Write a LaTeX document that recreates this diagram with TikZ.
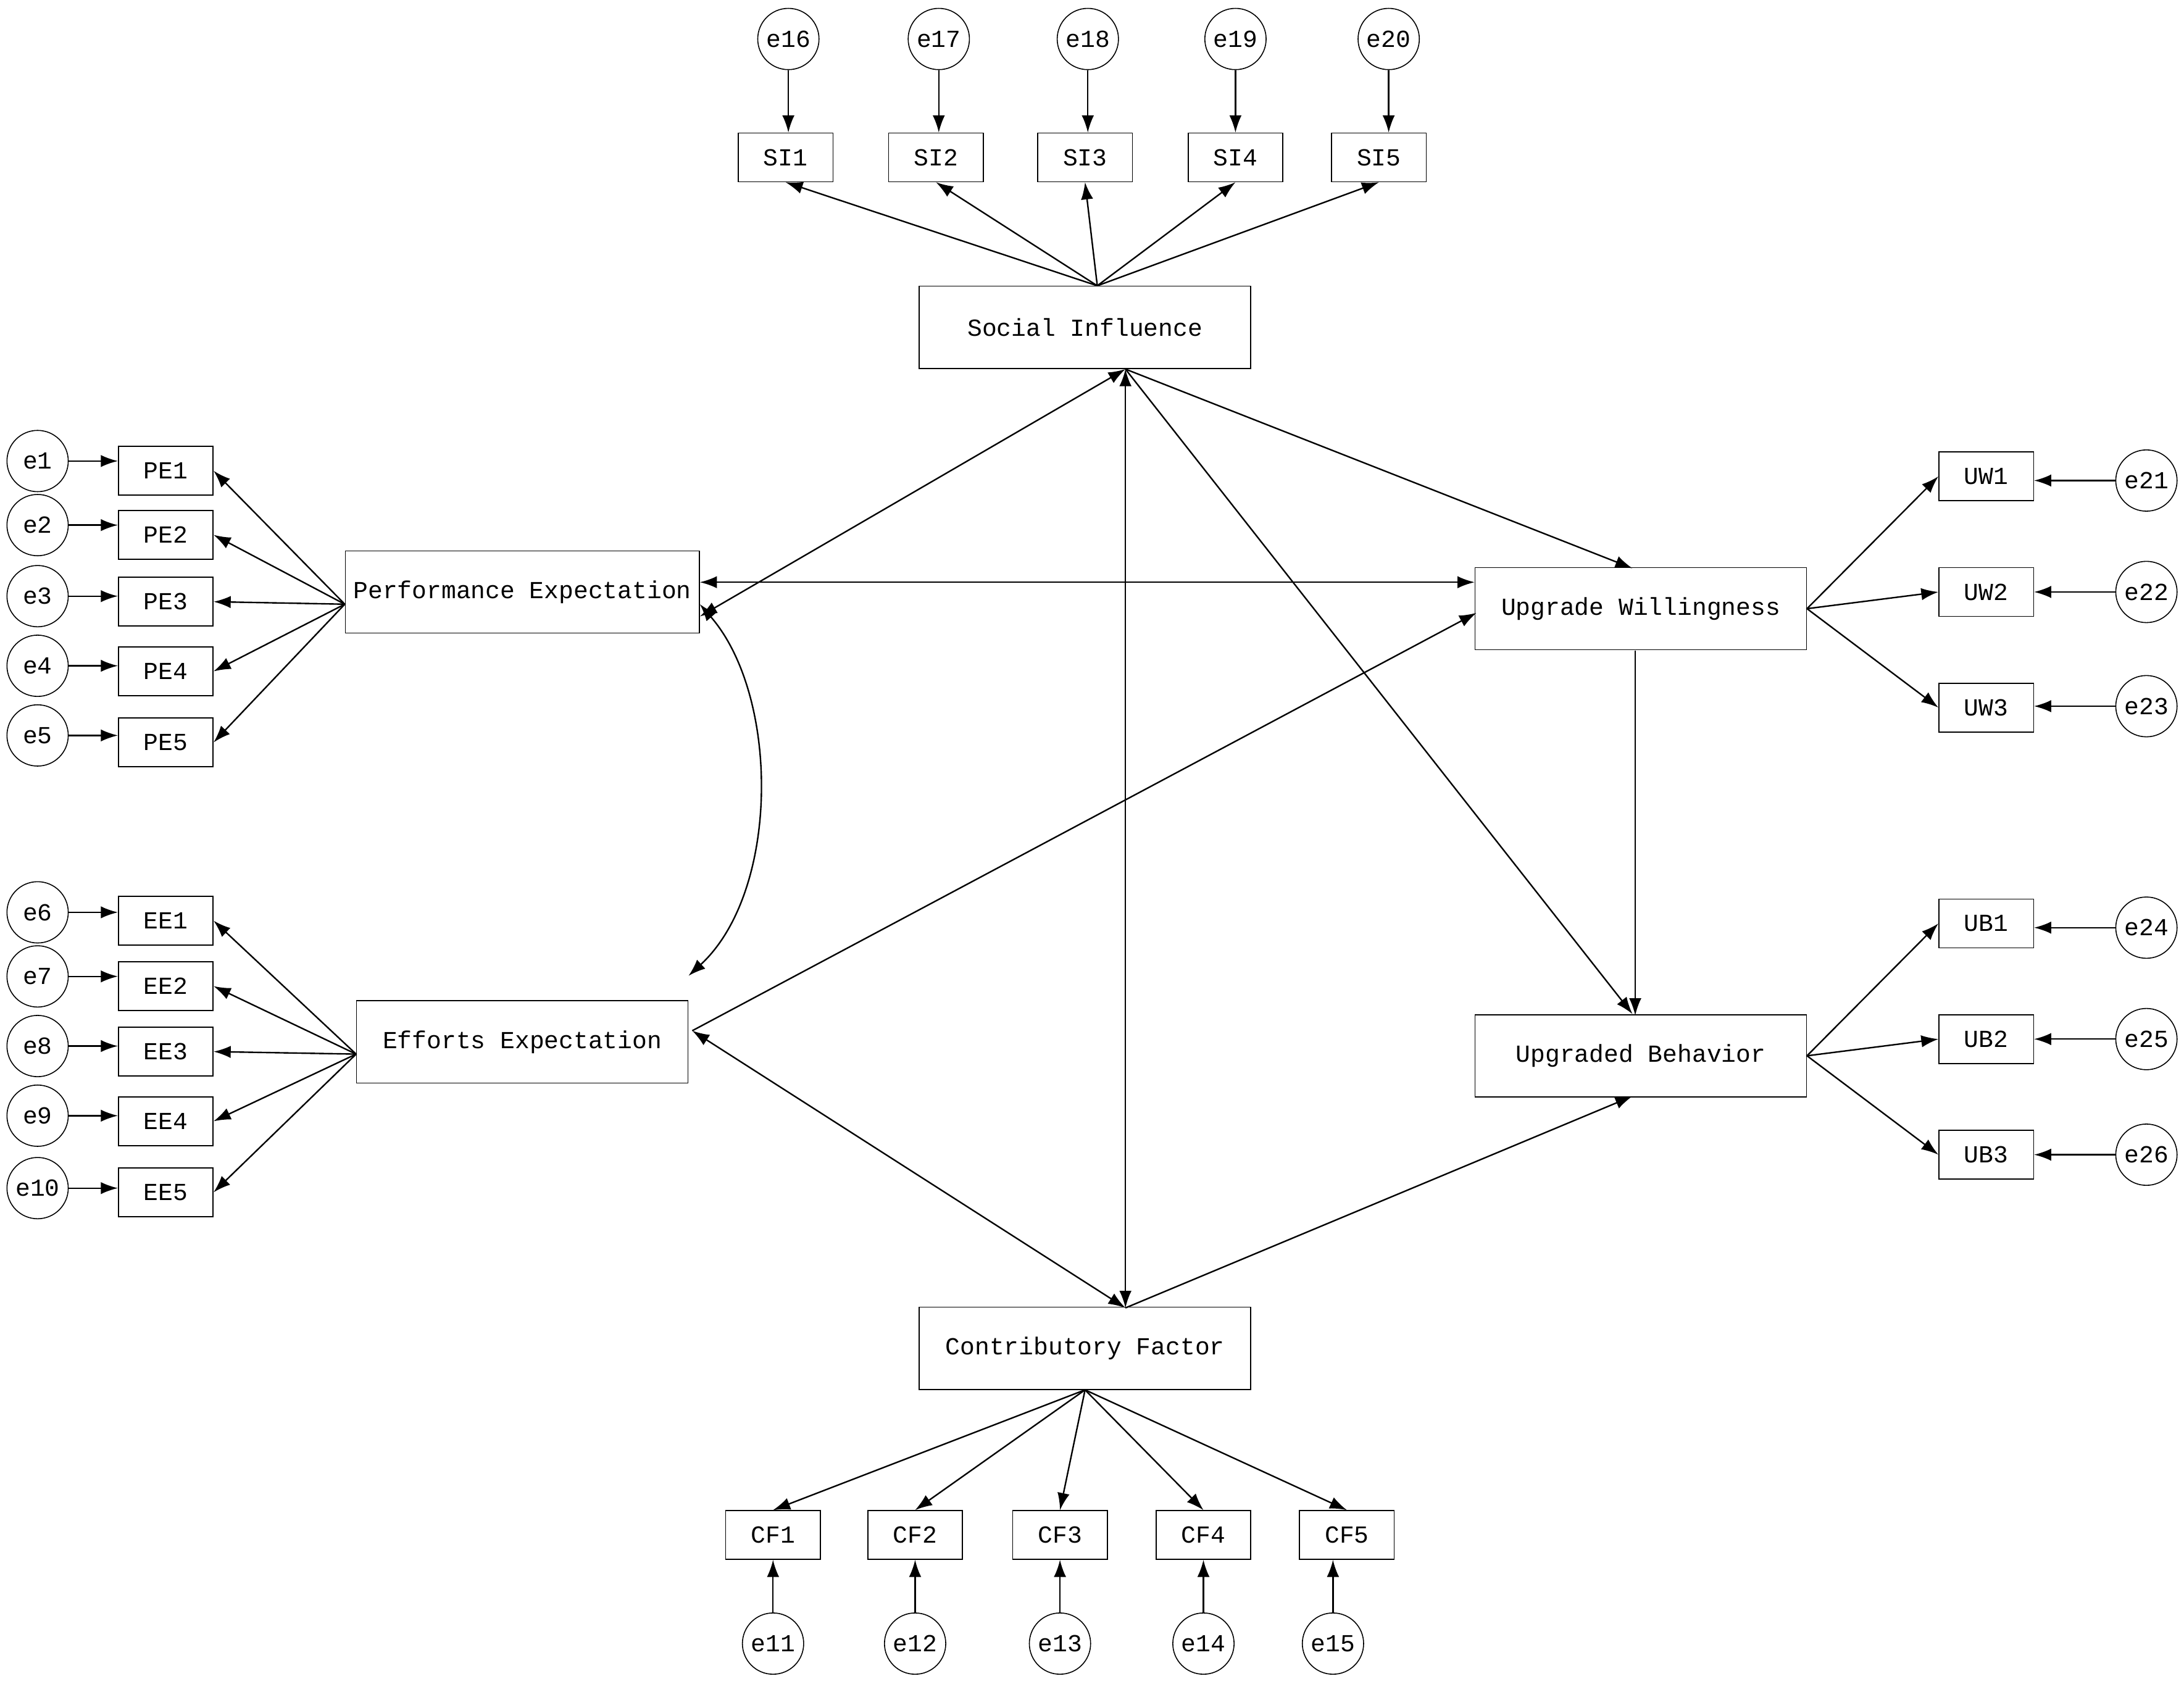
\documentclass[tikz,border=0pt]{standalone}
\usepackage{fontspec}
\setmainfont{Liberation Mono}
\usetikzlibrary{arrows.meta}
\begin{document}
\begin{tikzpicture}[x=0.02cm,y=-0.02cm,
  lat/.style={draw,minimum width=4.76cm,minimum height=1.18cm,font=\fontsize{10}{12}\selectfont},
  obs/.style={draw,minimum width=1.36cm,minimum height=0.7cm,inner sep=0pt,font=\fontsize{10}{12}\selectfont},
  err/.style={draw,circle,minimum size=0.88cm,inner sep=0pt,font=\fontsize{10}{12}\selectfont},
  ar/.style={-{Latex[length=7pt,width=5pt]},line width=0.6pt},
  dar/.style={{Latex[length=7pt,width=5pt]}-{Latex[length=7pt,width=5pt]},line width=0.6pt}]
\useasboundingbox (0,0) rectangle (1568,1209);
\node[lat] (SI) at (779,235) {Social Influence};
\node[lat] (PE) at (375,425) {Performance Expectation};
\node[lat] (EE) at (375,748) {Efforts Expectation};
\node[lat] (UW) at (1178,437) {Upgrade Willingness};
\node[lat] (UB) at (1178,758) {Upgraded Behavior};
\node[lat] (CF) at (779,968) {Contributory Factor};
% SI
\foreach \i/\x/\ex in {1/564/566,2/672/674,3/779/781,4/887/887,5/990/997}{
  \node[obs] (SI\i) at (\x,113) {SI\i};
  \pgfmathtruncatemacro\e{15+\i}
  \node[err] (e\e) at (\ex,28) {e\e};
  \draw[ar] (e\e) -- (e\e|-SI\i.north);
  \draw[ar] ([xshift=5pt]SI.north) -- (SI\i.south);
}
% PE
\foreach \i/\y/\ey in {1/338/331,2/384/377,3/432/428,4/482/478,5/533/528}{
  \node[obs] (PE\i) at (119,\y) {PE\i};
  \node[err] (e\i) at (27,\ey) {e\i};
  \draw[ar] (e\i) -- (PE\i.west|-e\i);
  \draw[ar] ([yshift=-5pt]PE.west) -- (PE\i.east);
}
% EE
\foreach \i/\y/\ey in {1/661/655,2/708/701,3/755/751,4/805/801,5/856/853}{
  \node[obs] (EE\i) at (119,\y) {EE\i};
  \pgfmathtruncatemacro\e{5+\i}
  \node[err] (e\e) at (27,\ey) {e\e};
  \draw[ar] (e\e) -- (EE\i.west|-e\e);
  \draw[ar] ([yshift=-5pt]EE.west) -- (EE\i.east);
}
% UW
\foreach \i/\y/\ey in {1/342/345,2/425/425,3/508/507}{
  \node[obs] (UW\i) at (1426,\y) {UW\i};
  \pgfmathtruncatemacro\e{20+\i}
  \node[err] (e\e) at (1541,\ey) {e\e};
  \draw[ar] (e\e) -- (UW\i.east|-e\e);
  \draw[ar] (UW.east) -- (UW\i.west);
}
% UB
\foreach \i/\y/\ey in {1/663/666,2/746/746,3/829/829}{
  \node[obs] (UB\i) at (1426,\y) {UB\i};
  \pgfmathtruncatemacro\e{23+\i}
  \node[err] (e\e) at (1541,\ey) {e\e};
  \draw[ar] (e\e) -- (UB\i.east|-e\e);
  \draw[ar] (UB.east) -- (UB\i.west);
}
% CF
\foreach \i/\x/\ex in {1/555/555,2/657/657,3/761/761,4/864/864,5/967/957}{
  \node[obs] (CF\i) at (\x,1102) {CF\i};
  \pgfmathtruncatemacro\e{10+\i}
  \node[err] (e\e) at (\ex,1180) {e\e};
  \draw[ar] (e\e) -- (CF\i.south-|e\e);
  \draw[ar] (CF.south) -- (CF\i.north);
}
% structural
\coordinate (sib) at (808,265);
\coordinate (cft) at (808,939);
\coordinate (eer) at (497,740);
\draw[dar] (sib) -- ([yshift=-10pt]PE.east);
\draw[dar] (sib) -- (cft);
\draw[ar] (sib) -- (1172,408);
\draw[ar] (sib) -- (1172,728);
\draw[dar] (PE.east|-0,418) -- (UW.west|-0,418);
\draw[dar] ([yshift=-5pt]PE.east) .. controls (560,500) and (560,640) .. ([yshift=10pt]EE.north east);
\draw[ar] (eer) -- (1060,440);
\draw[dar] (eer) -- (cft);
\draw[ar] (cft) -- (1172,787);
\draw[ar] (1174,467) -- (1174,729);
\end{tikzpicture}
\end{document}
